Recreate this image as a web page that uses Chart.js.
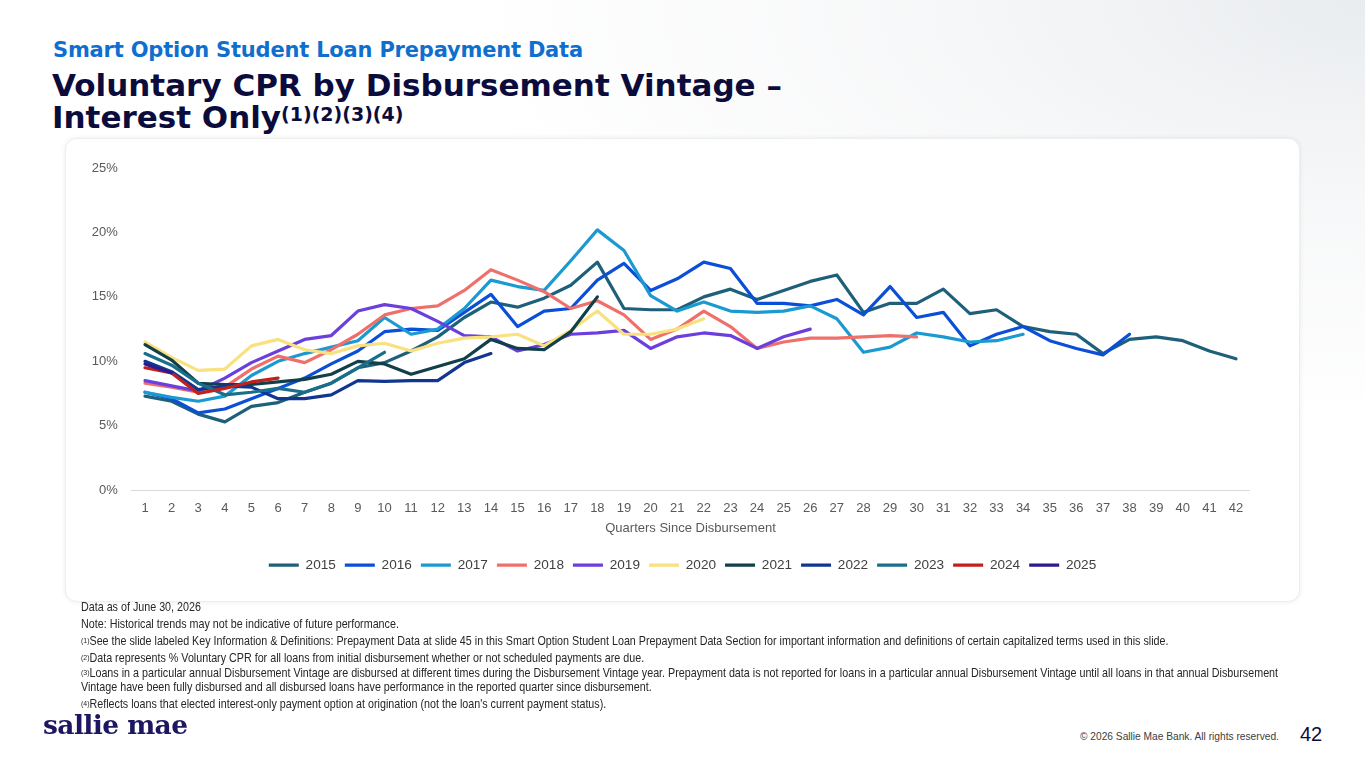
<!DOCTYPE html>
<html>
<head>
<meta charset="utf-8">
<script src="https://cdn.jsdelivr.net/npm/chart.js@4.4.1/dist/chart.umd.min.js"></script>
<style>
  html, body { margin:0; padding:0; }
  body {
    width:1365px; height:768px; position:relative; overflow:hidden;
    font-family:'Liberation Sans', Arial, sans-serif;
    background: radial-gradient(ellipse 900px 420px at 1365px 0px, #e9ecef 0%, #f6f7f8 45%, #ffffff 100%);
  }
  #sub { position:absolute; left:53px; top:38px; font-family:'DejaVu Sans', sans-serif; font-size:21px; font-weight:bold; color:#0f6fcf; white-space:nowrap; letter-spacing:-0.2px; }
  #title { position:absolute; left:52px; top:69px; font-family:'DejaVu Sans', sans-serif; font-size:31px; font-weight:bold; color:#0c0c3c; line-height:32px; white-space:nowrap; letter-spacing:0px; }
  #title sup { font-size:19px; vertical-align:top; position:relative; top:-3px; }
  #card { position:absolute; left:65px; top:138px; width:1235px; height:464px; background:#fff; border-radius:12px;
          box-shadow:0 0 5px rgba(0,0,0,0.08); border:1px solid #eeeeee; box-sizing:border-box; }
  #chart { position:absolute; left:65px; top:138px; }
  #notes { position:absolute; left:81px; top:599px; font-family:'Liberation Sans', Arial, sans-serif; font-size:12.4px; color:#262626; line-height:17px; }
  #notes div { white-space:nowrap; transform:scaleX(0.866); transform-origin:0 0; }
  #notes sup { font-size:8px; vertical-align:top; position:relative; top:-1px; }
  #notes .tight { line-height:13.5px; }
  #logo { position:absolute; left:43px; top:709px; font-family:'DejaVu Serif', serif; font-weight:bold; font-size:26.5px; color:#1d1660; letter-spacing:-0.6px; }
  #copy { position:absolute; left:1080px; top:731px; font-size:10.2px; color:#404040; }
  #page { position:absolute; left:1300px; top:723px; font-size:20px; color:#0c0c3c; }
</style>
</head>
<body>
<div id="sub">Smart Option Student Loan Prepayment Data</div>
<div id="title">Voluntary CPR by Disbursement Vintage –<br>Interest Only<sup>(1)(2)(3)(4)</sup></div>
<div id="card"></div>
<canvas id="chart" width="1235" height="464"></canvas>
<div id="notes">
  <div>Data as of June 30, 2026</div>
  <div>Note: Historical trends may not be indicative of future performance.</div>
  <div><sup>(1)</sup>See the slide labeled Key Information &amp; Definitions: Prepayment Data at slide 45 in this Smart Option Student Loan Prepayment Data Section for important information and definitions of certain capitalized terms used in this slide.</div>
  <div><sup>(2)</sup>Data represents % Voluntary CPR for all loans from initial disbursement whether or not scheduled payments are due.</div>
  <div class="tight"><sup>(3)</sup>Loans in a particular annual Disbursement Vintage are disbursed at different times during the Disbursement Vintage year. Prepayment data is not reported for loans in a particular annual Disbursement Vintage until all loans in that annual Disbursement</div>
  <div class="tight" style="margin-bottom:2px">Vintage have been fully disbursed and all disbursed loans have performance in the reported quarter since disbursement.</div>
  <div><sup>(4)</sup>Reflects loans that elected interest-only payment option at origination (not the loan's current payment status).</div>
</div>
<div id="logo">sallie mae</div>
<div id="copy">© 2026 Sallie Mae Bank. All rights reserved.</div>
<div id="page">42</div>
<script>
const quarters = ['1','2','3','4','5','6','7','8','9','10','11','12','13','14','15','16','17','18','19','20','21','22','23','24','25','26','27','28','29','30','31','32','33','34','35','36','37','38','39','40','41','42'];
const vintages = ['2015','2016','2017','2018','2019','2020','2021','2022','2023','2024','2025'];
const yTicks = [0, 5, 10, 15, 20, 25];

const v2015 = [7.3,6.9,5.9,5.3,6.5,6.8,7.6,8.3,9.5,9.9,10.8,11.9,13.4,14.6,14.2,14.9,15.9,17.7,14.1,14.0,14.0,15.0,15.6,14.8,15.5,16.2,16.7,13.8,14.5,14.5,15.6,13.7,14.0,12.7,12.3,12.1,10.6,11.7,11.9,11.6,10.8,10.2];
const v2016 = [7.6,7.1,6.0,6.3,7.1,7.9,8.7,9.8,10.8,12.3,12.5,12.4,13.8,15.2,12.7,13.9,14.1,16.3,17.6,15.5,16.4,17.7,17.2,14.5,14.5,14.3,14.8,13.6,15.8,13.4,13.8,11.2,12.1,12.7,11.6,11.0,10.5,12.1];
const v2017 = [7.6,7.2,6.9,7.3,8.9,10.0,10.6,11.1,11.6,13.4,12.1,12.5,14.1,16.3,15.8,15.5,17.8,20.2,18.6,15.1,13.9,14.6,13.9,13.8,13.9,14.3,13.3,10.7,11.1,12.2,11.9,11.5,11.6,12.1];
const v2018 = [8.3,8.0,7.6,8.0,9.4,10.4,9.9,10.9,12.1,13.6,14.1,14.3,15.5,17.1,16.3,15.4,14.1,14.7,13.6,11.7,12.5,13.9,12.7,11.0,11.5,11.8,11.8,11.9,12.0,11.9];
const v2019 = [8.5,8.1,7.7,8.7,9.9,10.8,11.7,12.0,13.9,14.4,14.1,13.1,12.0,11.9,10.8,11.3,12.1,12.2,12.4,11.0,11.9,12.2,12.0,11.0,11.9,12.5];
const v2020 = [11.5,10.3,9.3,9.4,11.2,11.7,10.9,10.6,11.2,11.4,10.8,11.4,11.8,11.9,12.1,11.2,12.4,13.9,12.1,12.1,12.5,13.3];
const v2021 = [11.3,10.1,8.3,8.2,8.2,8.4,8.6,9.0,10.0,9.8,9.0,9.6,10.2,11.7,11.0,10.9,12.3,15.0];
const v2022 = [10.0,9.2,7.8,8.1,8.0,7.1,7.1,7.4,8.5,8.45,8.5,8.5,9.9,10.6];
const v2023 = [10.6,9.7,8.3,7.4,7.6,7.9,7.6,8.3,9.5,10.7];
const v2024 = [9.5,9.1,7.5,7.9,8.4,8.7];
const v2025 = [9.8,9.1];

const seriesValues = [v2015, v2016, v2017, v2018, v2019, v2020, v2021, v2022, v2023, v2024, v2025];
const seriesColors = ['#1e5f79','#0b4fd9','#1b9ad2','#ef706b','#6b3fdc','#fae17f','#113f4a','#11368f','#196f8b','#c1201f','#2d1a8e'];

Chart.defaults.font.family = "'Liberation Sans', Arial, sans-serif";
Chart.defaults.color = '#595959';

const datasets = vintages.map((name, i) => ({
  label: name,
  data: seriesValues[i],
  borderColor: seriesColors[i],
  backgroundColor: seriesColors[i],
  borderWidth: 3.2,
  pointRadius: 0,
  pointHoverRadius: 0,
  tension: 0,
  fill: false,
  order: -i,
  borderCapStyle: 'round',
  borderJoinStyle: 'round'
}));

// center the legend across the whole canvas (not just the padded area)
const centerLegend = {
  id: 'centerLegend',
  afterLayout(chart) {
    const lg = chart.legend;
    if (lg) { lg.left = 0; lg.right = chart.width; lg.width = chart.width; }
  }
};

new Chart(document.getElementById('chart'), {
  type: 'line',
  data: { labels: quarters, datasets },
  plugins: [centerLegend],
  options: {
    responsive: false,
    animation: false,
    devicePixelRatio: 1,
    layout: { padding: { top: 30, left: 0, right: 50.7, bottom: 20 } },
    plugins: {
      tooltip: { enabled: false },
      legend: {
        position: 'bottom',
        labels: {
          usePointStyle: true,
          pointStyle: 'line',
          pointStyleWidth: 30,
          boxHeight: 14,
          padding: 9,
          color: '#404040',
          font: { size: 13.6 },
          sort: (a, b) => a.datasetIndex - b.datasetIndex
        }
      }
    },
    scales: {
      x: {
        offset: true,
        grid: { display: false, drawTicks: false },
        border: { display: true, color: '#d9d9d9', width: 1 },
        ticks: { padding: 10, font: { size: 13 }, color: '#595959', maxRotation: 0, autoSkip: false },
        title: { display: true, text: 'Quarters Since Disbursement', font: { size: 13 }, color: '#595959', padding: { top: -5, bottom: 13 } }
      },
      y: {
        min: 0, max: 25,
        afterFit: (scale) => { scale.width = 66.7; },
        afterBuildTicks: (scale) => { scale.ticks = yTicks.map(v => ({ value: v })); },
        grid: { display: false, drawTicks: false },
        border: { display: false },
        ticks: { padding: 14, font: { size: 13 }, color: '#595959', callback: (v) => v + '%' }
      }
    }
  }
});
</script>
</body>
</html>
